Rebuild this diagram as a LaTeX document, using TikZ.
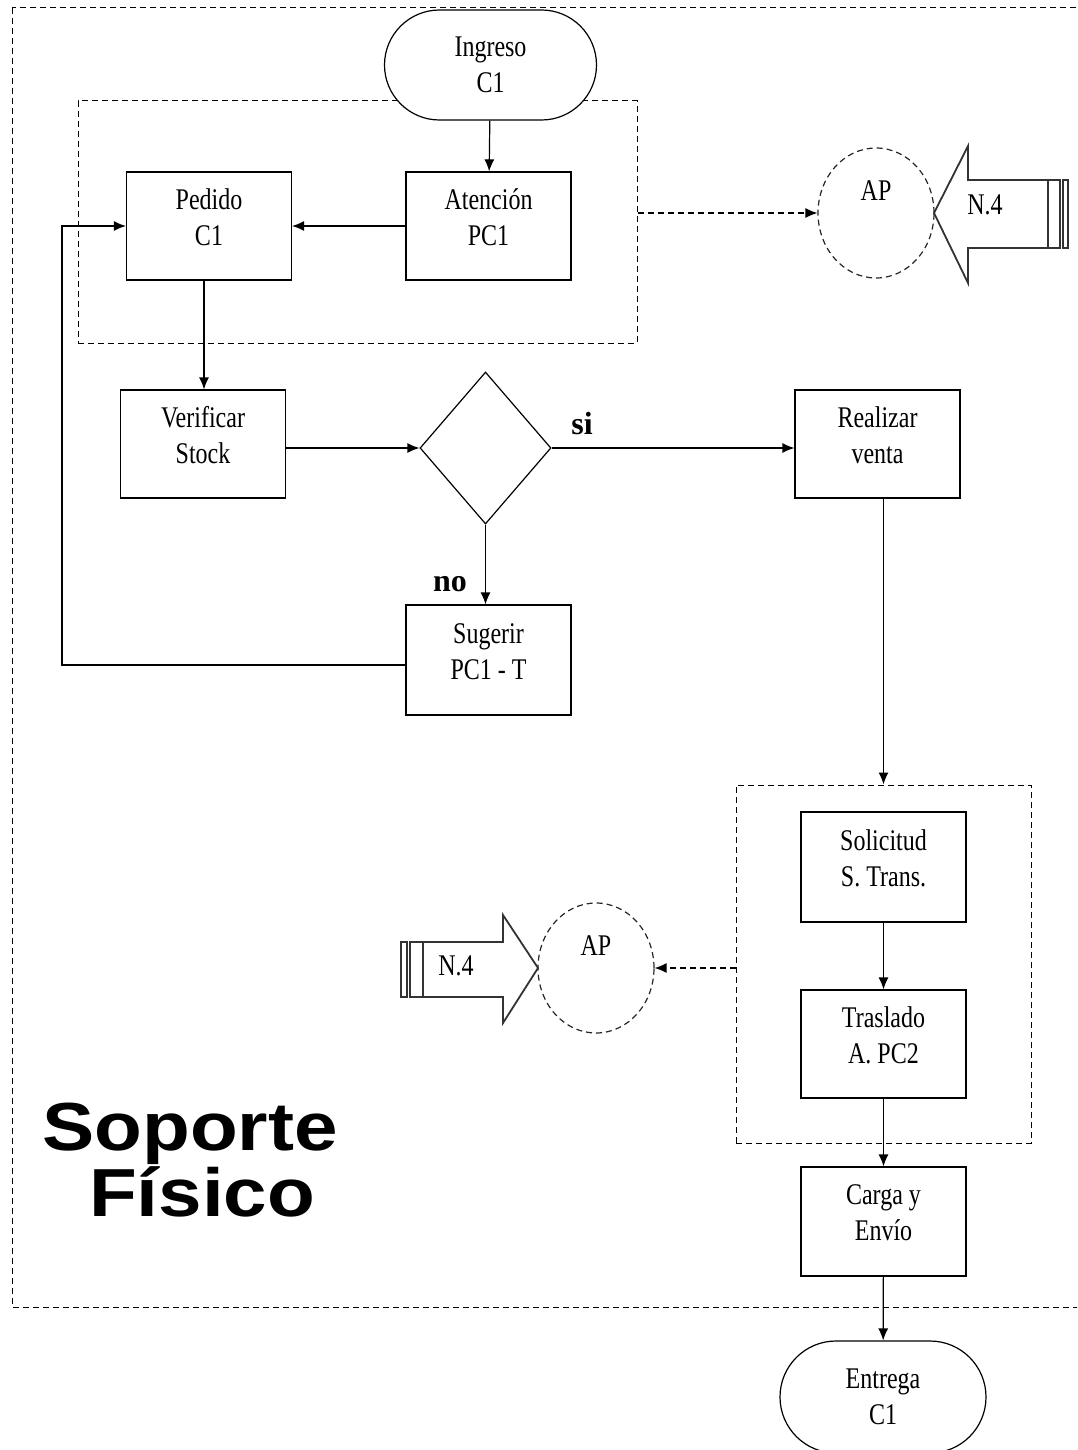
\documentclass[tikz,border=0pt]{standalone}
\usepackage{fontspec}
\setmainfont{Liberation Serif}
\newfontfamily\boxfont[FakeStretch=0.8]{Liberation Serif}
\newfontfamily\titlefont[FakeStretch=1.15]{Liberation Sans}
\usetikzlibrary{arrows.meta,shapes.geometric,shapes.misc}

\begin{document}
\begin{tikzpicture}[x=0.5pt, y=-0.5pt,
    flecha/.style={-{Latex[length=6pt,width=5pt]}, line width=0.6pt},
    texto/.style={align=center, font=\boxfont\fontsize{15}{18}\selectfont},
    caja/.style={draw, texto, line width=0.6pt, minimum width=82.5pt, minimum height=54pt,
      inner sep=0pt, text height=29pt, text depth=10pt},
    terminal/.style={draw, texto, line width=0.6pt, rounded rectangle, inner sep=0pt,
      minimum width=106pt, minimum height=55pt},
    grupo/.style={draw, dash pattern=on 3pt off 2pt, line width=0.5pt, inner sep=0pt},
    ayuda/.style={draw, ellipse, dash pattern=on 3pt off 2pt, line width=0.6pt, gray!30!black,
      minimum width=58pt, minimum height=65pt, inner sep=0pt, text=black, text depth=22pt,
      font=\boxfont\fontsize{15}{18}\selectfont},
    nota/.style={font=\boxfont\fontsize{15}{18}\selectfont},
    bloque/.style={draw, line width=0.9pt, gray!40!black, fill=white},
    rama/.style={font=\bfseries\fontsize{16}{18}\selectfont}]
  \useasboundingbox (0,0) rectangle (1077,1450);
  \clip (0,0) rectangle (1077,1450);
  % soporte fisico
  \draw[dash pattern=on 3pt off 2pt, line width=0.5pt] (12,8) rectangle (1090,1307);
  \node[font=\titlefont\bfseries\fontsize{34}{31.5}\selectfont, align=center] (titulo) at (190,1160) {Soporte\\\hspace*{12pt}Físico};

  \node[grupo, minimum width=279.5pt, minimum height=121pt] (grupo1) at (357.5,222) {};
  \node[grupo, minimum width=147.5pt, minimum height=179pt] (grupo2) at (883.5,964) {};

  \node[terminal, fill=white] (ingreso) at (490.5,65) {Ingreso\\C1};
  \node[caja] (pedido) at (209,226) {Pedido\\C1};
  \node[caja] (atencion) at (488.5,226) {Atención\\PC1};
  \node[caja] (verificar) at (203,444) {Verificar\\Stock};
  \node[draw, diamond, line width=0.6pt, minimum width=65.5pt, minimum height=76pt, inner sep=0pt] (decision) at (485.5,448) {};
  \node[caja] (realizar) at (877.5,444) {Realizar\\venta};
  \node[caja, minimum height=55pt] (sugerir) at (488.5,660) {Sugerir\\PC1 - T};
  \node[caja, minimum height=55pt] (solicitud) at (883.5,867) {Solicitud\\S. Trans.};
  \node[caja] (traslado) at (883.5,1044) {Traslado\\A. PC2};
  \node[caja, minimum height=54.5pt] (carga) at (883.5,1221.5) {Carga y\\Envío};
  \node[terminal, minimum width=103pt, minimum height=56pt] (entrega) at (883,1397) {Entrega\\C1};

  \node[rama] (si) at (582,424) {si};
  \node[rama] (no) at (450,584) {no};

  % ayudas
  \node[ayuda] (ap1) at (876,213) {AP};
  \node[ayuda] (ap2) at (596,968) {AP};
  \draw[bloque] (934,213) -- (968,146) -- (968,180) -- (1048,180) -- (1048,248) -- (968,248) -- (968,283) -- cycle;
  \draw[bloque] (1048,180) rectangle (1060,248);
  \draw[bloque] (1063,180) rectangle (1068,248);
  \node[nota] (n4a) at (985,205) {N.4};
  \draw[bloque] (538,968) -- (503,915) -- (503,942) -- (423,942) -- (423,997) -- (503,997) -- (503,1023) -- cycle;
  \draw[bloque] (410,942) rectangle (423,997);
  \draw[bloque] (401,942) rectangle (407,997);
  \node[nota] (n4b) at (456,966) {N.4};

  % flujo
  \draw[flecha] (ingreso) -- (atencion);
  \draw[flecha] (atencion) -- (pedido);
  \draw[flecha] (pedido.south -| 204,0) -- (verificar.north -| 204,0);
  \draw[flecha] (verificar.east |- decision.west) -- (decision.west);
  \draw[flecha] (decision.east) -- (realizar.west |- decision.east);
  \draw[flecha] (decision.south) -- (decision.south |- sugerir.north);
  \coordinate (vuelta) at (62,665);
  \draw[flecha] (vuelta -| sugerir.west) -- (vuelta) |- (pedido.west);
  \draw[flecha] (realizar.south -| grupo2.north) -- (grupo2.north);
  \draw[flecha] (solicitud) -- (traslado);
  \draw[flecha] (traslado) -- (carga);
  \draw[flecha] (carga) -- (entrega);
  \draw[flecha, dash pattern=on 3pt off 2pt] (grupo1.east |- ap1) -- (ap1.west);
  \draw[flecha, dash pattern=on 3pt off 2pt] (grupo2.west |- ap2) -- (ap2.east);
\end{tikzpicture}
\end{document}
